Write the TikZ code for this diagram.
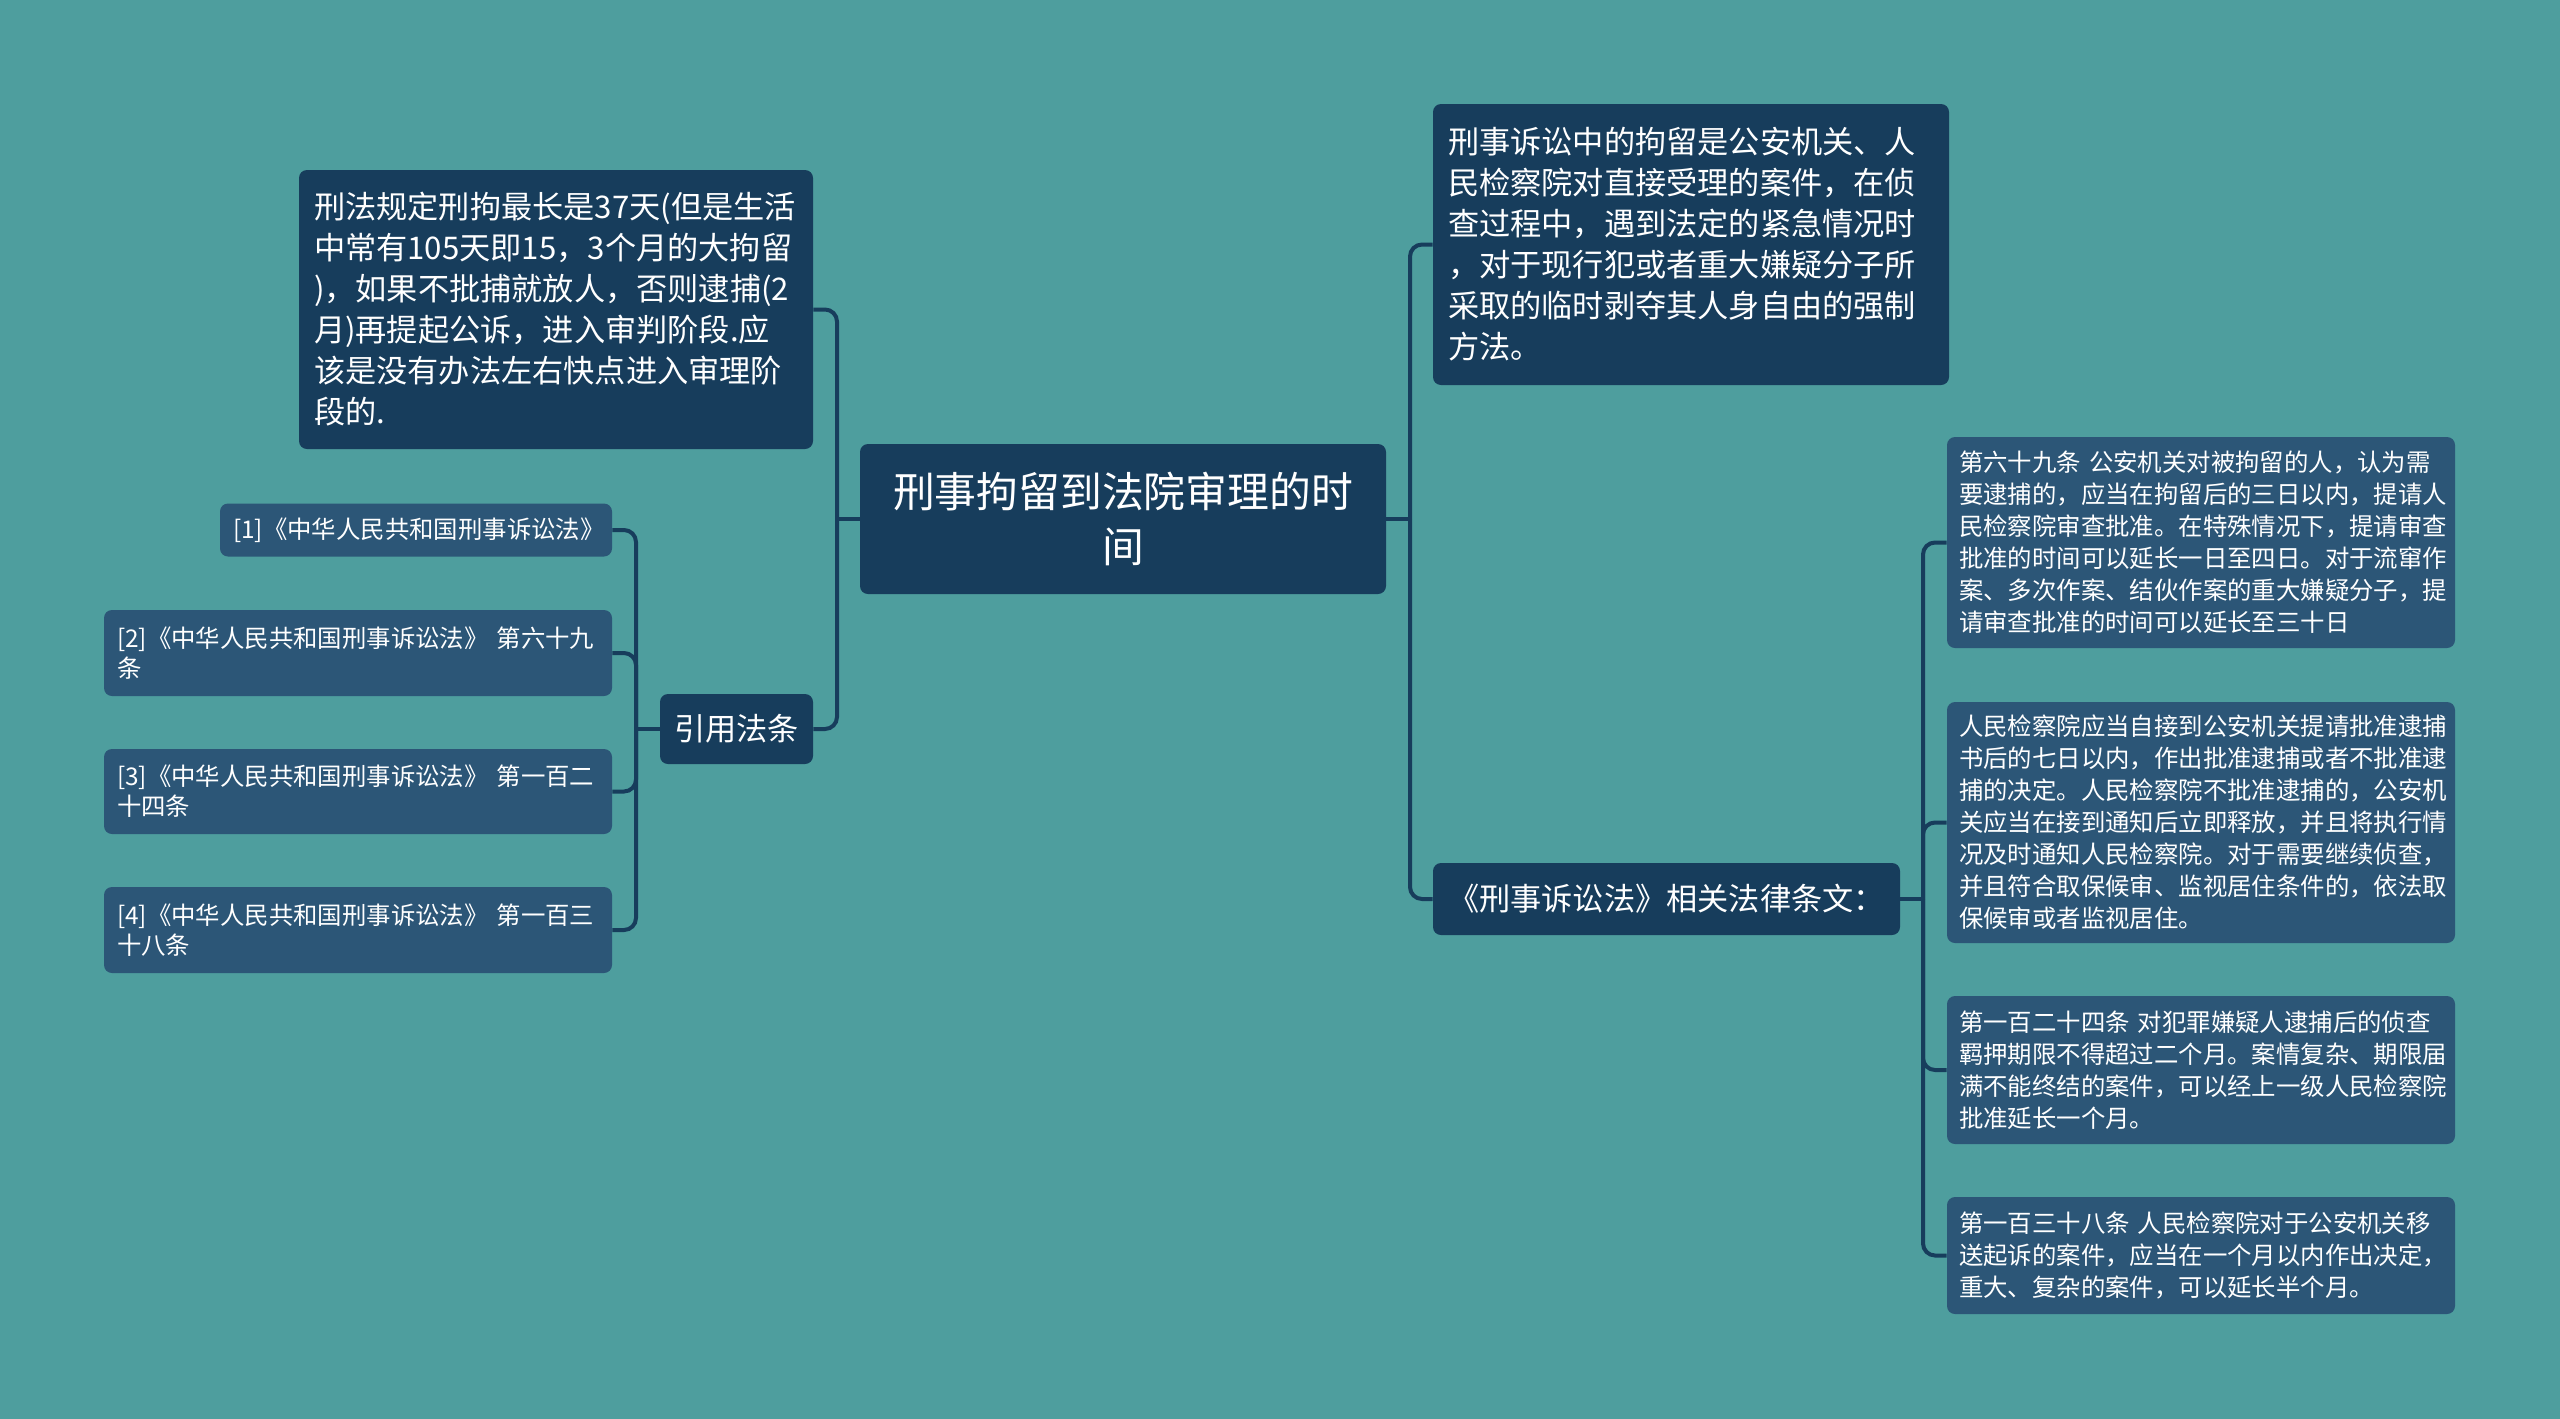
\documentclass[tikz,border=0pt]{standalone}
\usepackage{fontspec}
\setmainfont{Noto Sans CJK SC}
\definecolor{bg}{HTML}{4E9E9E}
\definecolor{navy}{HTML}{173D5C}
\definecolor{leafc}{HTML}{2C5677}
\definecolor{linec}{HTML}{173D5C}
\newcommand\fRoot{\fontsize{20.9pt}{27.5pt}\selectfont}
\newcommand\fMid{\fontsize{15.6pt}{20.5pt}\selectfont}
\newcommand\fLeafA{\fontsize{12.2pt}{15pt}\selectfont}
\newcommand\fLeafB{\fontsize{12.2pt}{16pt}\selectfont}
\begin{document}
\begin{tikzpicture}[x=0.5pt,y=-0.5pt,
  box/.style={rounded corners=4pt, inner sep=0pt, text=white},
  dark/.style={box, fill=navy},
  leaf/.style={box, fill=leafc},
  conn/.style={draw=linec, line width=2pt, rounded corners=6pt}]
\fill[bg] (0,0) rectangle (2560,1419);
\useasboundingbox (0,0) rectangle (2560,1419);

% main nodes
\node[dark, minimum width=263pt, minimum height=75pt, font=\fRoot, align=center] (root) at (1123,519) {刑事拘留到法院审理的时\\间};
\node[dark, minimum width=257pt, minimum height=139.5pt, text width=242pt, font=\fMid, align=left] (LT) at (556,309.5) {刑法规定刑拘最长是37天(但是生活\\中常有105天即15，3个月的大拘留\\)，如果不批捕就放人，否则逮捕(2\\月)再提起公诉，进入审判阶段.应\\该是没有办法左右快点进入审理阶\\段的.};
\node[dark, minimum width=76.5pt, minimum height=35pt, font=\fMid, align=center] (YF) at (736.5,729) {引用法条};
\node[dark, minimum width=258pt, minimum height=140.5pt, text width=243pt, font=\fMid, align=left] (RT) at (1691,244.5) {刑事诉讼中的拘留是公安机关、人\\民检察院对直接受理的案件，在侦\\查过程中，遇到法定的紧急情况时\\，对于现行犯或者重大嫌疑分子所\\采取的临时剥夺其人身自由的强制\\方法。};
\node[dark, minimum width=233.5pt, minimum height=36pt, font=\fMid, align=center] (XG) at (1666.5,899) {《刑事诉讼法》相关法律条文：};

% left leaves
\node[leaf, minimum width=196pt, minimum height=26.5pt, text width=183pt, font=\fLeafA, align=left] (L1) at (416,530) {[1]《中华人民共和国刑事诉讼法》};
\node[leaf, minimum width=254pt, minimum height=43pt, text width=241pt, font=\fLeafA, align=left] (L2) at (358,653) {[2]《中华人民共和国刑事诉讼法》~第六十九\\条};
\node[leaf, minimum width=254pt, minimum height=42.5pt, text width=241pt, font=\fLeafA, align=left] (L3) at (358,791.5) {[3]《中华人民共和国刑事诉讼法》~第一百二\\十四条};
\node[leaf, minimum width=254pt, minimum height=43pt, text width=241pt, font=\fLeafA, align=left] (L4) at (358,930) {[4]《中华人民共和国刑事诉讼法》~第一百三\\十八条};

% right leaves
\node[leaf, minimum width=254pt, minimum height=105.5pt, text width=242pt, font=\fLeafB, align=left] (R1) at (2201,542.5) {第六十九条~公安机关对被拘留的人，认为需\\要逮捕的，应当在拘留后的三日以内，提请人\\民检察院审查批准。在特殊情况下，提请审查\\批准的时间可以延长一日至四日。对于流窜作\\案、多次作案、结伙作案的重大嫌疑分子，提\\请审查批准的时间可以延长至三十日};
\node[leaf, minimum width=254pt, minimum height=120.5pt, text width=242pt, font=\fLeafB, align=left] (R2) at (2201,822.5) {人民检察院应当自接到公安机关提请批准逮捕\\书后的七日以内，作出批准逮捕或者不批准逮\\捕的决定。人民检察院不批准逮捕的，公安机\\关应当在接到通知后立即释放，并且将执行情\\况及时通知人民检察院。对于需要继续侦查，\\并且符合取保候审、监视居住条件的，依法取\\保候审或者监视居住。};
\node[leaf, minimum width=254pt, minimum height=74pt, text width=242pt, font=\fLeafB, align=left] (R3) at (2201,1070) {第一百二十四条~对犯罪嫌疑人逮捕后的侦查\\羁押期限不得超过二个月。案情复杂、期限届\\满不能终结的案件，可以经上一级人民检察院\\批准延长一个月。};
\node[leaf, minimum width=254pt, minimum height=58.5pt, text width=242pt, font=\fLeafB, align=left] (R4) at (2201,1255.5) {第一百三十八条~人民检察院对于公安机关移\\送起诉的案件，应当在一个月以内作出决定，\\重大、复杂的案件，可以延长半个月。};

% junctions
\coordinate (jl) at (837,519);
\coordinate (jy) at (636,729);
\coordinate (jr) at (1410,519);
\coordinate (jx) at (1923,899);

% connectors
\draw[conn] (root.west) -- (jl);
\draw[conn] (jl) |- (LT.east);
\draw[conn] (jl) |- (YF.east);
\draw[conn] (YF.west) -- (jy);
\foreach \n in {L1,L2,L3,L4} \draw[conn] (jy) |- (\n.east);
\draw[conn] (root.east) -- (jr);
\draw[conn] (jr) |- (RT.west);
\draw[conn] (jr) |- (XG.west);
\draw[conn] (XG.east) -- (jx);
\foreach \n in {R1,R2,R3,R4} \draw[conn] (jx) |- (\n.west);
\end{tikzpicture}
\end{document}
